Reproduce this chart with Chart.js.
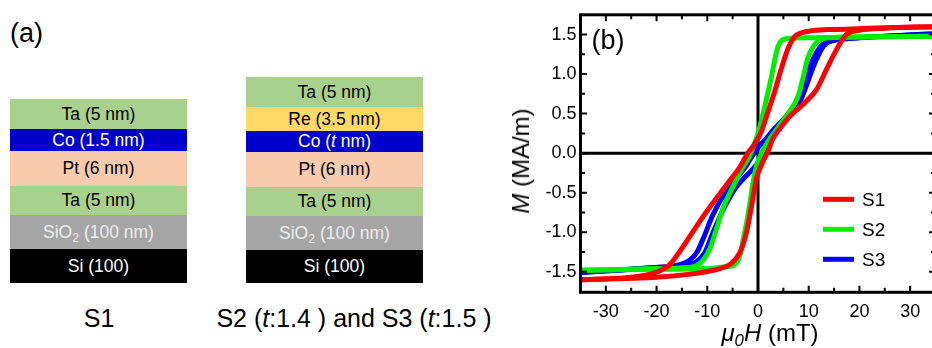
<!DOCTYPE html>
<html>
<head>
<meta charset="utf-8">
<script src="https://cdn.jsdelivr.net/npm/chart.js@4.4.0/dist/chart.umd.min.js"></script>
<style>
  html, body { margin: 0; padding: 0; background: #fff; overflow: hidden; }
  body { width: 932px; height: 348px; position: relative; font-family: "Liberation Sans", Arial, sans-serif; }
  .abs { position: absolute; }
  .layer { position: absolute; display: flex; align-items: center; justify-content: center; font-size: 17.5px; color: #000; white-space: nowrap; }
  .ta { background: #a9d18e; }
  .co { background: #0000cc; color: #fff; }
  .pt { background: #f8cbad; }
  .re { background: #ffd966; }
  .sio { background: #a5a5a5; color: #ececec; }
  .si { background: #000; color: #fff; }
  sub { font-size: 0.7em; vertical-align: -0.3em; line-height: 0; }
  #chartBox { position: absolute; left: 500px; top: 0; width: 440px; height: 348px; }
  .title { position: absolute; white-space: nowrap; font-size: 24px; transform: translate(-50%, -50%); }
</style>
</head>
<body>
<div class="abs" style="left:10px;top:18px;font-size:27px;">(a)</div>

<!-- S1 stack -->
<div class="layer ta"  style="left:10px;width:177px;top:99px;height:30px;"><span>Ta (5 nm)</span></div>
<div class="layer co"  style="left:10px;width:177px;top:129px;height:22px;"><span>Co (1.5 nm)</span></div>
<div class="layer pt"  style="left:10px;width:177px;top:151px;height:35px;"><span>Pt (6 nm)</span></div>
<div class="layer ta"  style="left:10px;width:177px;top:186px;height:29px;"><span>Ta (5 nm)</span></div>
<div class="layer sio" style="left:10px;width:177px;top:215px;height:34px;"><span>SiO<sub>2</sub> (100 nm)</span></div>
<div class="layer si"  style="left:10px;width:177px;top:249px;height:34px;"><span>Si (100)</span></div>

<!-- S2 / S3 stack -->
<div class="layer ta"  style="left:246px;width:177px;top:77px;height:30px;"><span>Ta (5 nm)</span></div>
<div class="layer re"  style="left:246px;width:177px;top:107px;height:24px;"><span>Re (3.5 nm)</span></div>
<div class="layer co"  style="left:246px;width:177px;top:131px;height:21px;"><span>Co (<i>t</i> nm)</span></div>
<div class="layer pt"  style="left:246px;width:177px;top:152px;height:35px;"><span>Pt (6 nm)</span></div>
<div class="layer ta"  style="left:246px;width:177px;top:187px;height:29px;"><span>Ta (5 nm)</span></div>
<div class="layer sio" style="left:246px;width:177px;top:216px;height:34px;"><span>SiO<sub>2</sub> (100 nm)</span></div>
<div class="layer si"  style="left:246px;width:177px;top:250px;height:33px;"><span>Si (100)</span></div>

<div class="title" style="left:99px;top:318px;font-size:25px;">S1</div>
<div class="title" style="left:354px;top:318px;font-size:25px;">S2 (<i>t</i>:1.4 ) and S3 (<i>t</i>:1.5 )</div>

<div id="chartBox"><canvas id="chart" width="440" height="348"></canvas></div>

<div class="title" style="left:770px;top:333px;"><i>μ<sub>0</sub>H</i> (mT)</div>
<div class="title" style="left:521px;top:161px;transform:translate(-50%,-50%) rotate(-90deg);"><i>M</i> (MA/m)</div>

<script>
// tick labels
const xTicks = [-30, -20, -10, 0, 10, 20, 30];
const yTicks = [-1.5, -1.0, -0.5, 0.0, 0.5, 1.0, 1.5];

// S1 (red) - field sweep down and up
const hS1Down = [35, 25, 20, 15, 10.8, 8.5, 7.2, 5.9, 4.6, 3.3, 2.0, 0.7, -0.5, -2.0, -3.6, -5.6, -7.5, -10.8, -13.4, -15.4, -17.4, -19.4, -21.3, -26, -35];
const mS1Down = [1.60, 1.585, 1.575, 1.565, 1.55, 1.52, 1.47, 1.32, 1.07, 0.78, 0.53, 0.28, 0.13, 0.0, -0.18, -0.35, -0.51, -0.80, -1.05, -1.24, -1.41, -1.49, -1.53, -1.575, -1.60];
const hS1Up = [-35, -26, -20, -13.4, -9.5, -7.5, -5.6, -3.6, -2.3, -1.3, -0.3, 0.8, 1.8, 3.0, 4.3, 6.2, 8.9, 11.5, 13.5, 15.4, 17.4, 20, 25, 35];
const mS1Up = [-1.60, -1.585, -1.57, -1.53, -1.49, -1.46, -1.41, -1.26, -1.01, -0.68, -0.32, -0.13, 0.0, 0.19, 0.31, 0.46, 0.62, 0.80, 1.06, 1.30, 1.50, 1.555, 1.58, 1.60];

// S2 (green)
const hS2Down = [35, 20, 10, 6, 4.6, 3.9, 3.3, 2.6, 2.0, 1.0, 0, -1.0, -1.6, -3.0, -4.9, -6.9, -8.2, -9.5, -10.8, -12.1, -14.8, -20, -35];
const mS2Down = [1.48, 1.47, 1.46, 1.45, 1.42, 1.34, 1.18, 0.95, 0.78, 0.50, 0.25, 0.07, -0.03, -0.18, -0.42, -0.70, -0.96, -1.21, -1.35, -1.42, -1.45, -1.46, -1.48];
const hS2Up = [-35, -20, -10, -6.9, -4.9, -4.0, -3.4, -3.0, -2.3, -1.6, -1.0, -0.3, 0.7, 2.0, 3.9, 5.9, 7.9, 8.9, 9.8, 10.8, 12.1, 14, 20, 35];
const mS2Up = [-1.48, -1.47, -1.46, -1.44, -1.42, -1.36, -1.26, -1.12, -0.90, -0.64, -0.38, -0.16, 0.0, 0.15, 0.32, 0.50, 0.72, 0.96, 1.20, 1.34, 1.43, 1.46, 1.47, 1.48];

// S3 (blue)
const hS3Down = [35, 25, 18, 14.5, 12.5, 10.5, 9.2, 7.6, 5.6, 3.0, 1.3, 0, -1.3, -2.3, -4.3, -6.2, -8.9, -10.8, -12.1, -13.4, -15.4, -21, -35];
const mS3Down = [1.51, 1.48, 1.45, 1.42, 1.36, 1.14, 0.90, 0.64, 0.47, 0.29, 0.16, 0.07, -0.05, -0.16, -0.32, -0.47, -0.78, -1.08, -1.26, -1.35, -1.41, -1.45, -1.51];
const hS3Up = [-35, -21, -15, -12.1, -10.5, -8.9, -6.9, -4.3, -2.5, -1.3, 0, 1.0, 2.0, 3.6, 6.2, 8.2, 9.8, 11.2, 13.0, 15, 20, 35];
const mS3Up = [-1.51, -1.45, -1.42, -1.37, -1.26, -1.01, -0.72, -0.43, -0.30, -0.22, -0.12, 0.02, 0.15, 0.28, 0.47, 0.64, 0.90, 1.14, 1.36, 1.43, 1.46, 1.51];

const samples = [
  { label: "S1", color: "#ff0000", down: [hS1Down, mS1Down], up: [hS1Up, mS1Up] },
  { label: "S2", color: "#00ee00", down: [hS2Down, mS2Down], up: [hS2Up, mS2Up] },
  { label: "S3", color: "#0000ff", down: [hS3Down, mS3Down], up: [hS3Up, mS3Up] }
];

function toPoints(hs, ms) {
  return hs.map((h, i) => ({ x: h, y: ms[i] }));
}

const datasets = [];
samples.forEach(s => {
  [s.down, s.up].forEach(branch => {
    datasets.push({
      label: s.label,
      data: toPoints(branch[0], branch[1]),
      borderColor: s.color,
      backgroundColor: s.color,
      borderWidth: 5,
      pointRadius: 0,
      fill: false,
      cubicInterpolationMode: "monotone"
    });
  });
});

const FONT = "'Liberation Sans', Arial, sans-serif";

// zero lines, behind the curves
const zeroLines = {
  id: "zeroLines",
  beforeDatasetsDraw(chart) {
    const { ctx, chartArea: a, scales: { x, y } } = chart;
    ctx.save();
    ctx.strokeStyle = "#000";
    ctx.lineWidth = 3;
    ctx.beginPath();
    const x0 = x.getPixelForValue(0), y0 = y.getPixelForValue(0);
    ctx.moveTo(x0, a.top); ctx.lineTo(x0, a.bottom);
    ctx.moveTo(a.left, y0); ctx.lineTo(a.right, y0);
    ctx.stroke();
    ctx.restore();
  }
};

// box frame with inward ticks + legend
const frame = {
  id: "frame",
  afterDatasetsDraw(chart) {
    const { ctx, chartArea: a, scales: { x, y } } = chart;
    ctx.save();
    ctx.strokeStyle = "#000";
    ctx.lineWidth = 2;
    ctx.beginPath();
    const xs = xTicks.concat(xTicks.slice(1).map((v, i) => (v + xTicks[i]) / 2));
    xs.push(xTicks[0] - 5, xTicks[xTicks.length - 1] + 5);
    xs.forEach(v => {
      const len = xTicks.includes(v) ? 6.5 : 4.5;
      const px = x.getPixelForValue(v);
      ctx.moveTo(px, a.bottom); ctx.lineTo(px, a.bottom - len);
      ctx.moveTo(px, a.top); ctx.lineTo(px, a.top + len);
    });
    const ys = yTicks.concat(yTicks.slice(1).map((v, i) => (v + yTicks[i]) / 2));
    ys.forEach(v => {
      const len = yTicks.includes(v) ? 6.5 : 4.5;
      const py = y.getPixelForValue(v);
      ctx.moveTo(a.left, py); ctx.lineTo(a.left + len, py);
      ctx.moveTo(a.right, py); ctx.lineTo(a.right - len, py);
    });
    ctx.stroke();
    ctx.lineWidth = 3;
    ctx.strokeRect(a.left, a.top, a.right - a.left, a.bottom - a.top);

    // panel label
    ctx.fillStyle = "#000";
    ctx.font = "27px " + FONT;
    ctx.textBaseline = "middle";
    ctx.textAlign = "left";
    ctx.fillText("(b)", a.left + 11, a.top + 27);

    // legend
    ctx.font = "19px " + FONT;
    samples.forEach((s, i) => {
      const ly = a.top + 184.5 + i * 30;
      ctx.strokeStyle = s.color;
      ctx.lineWidth = 5;
      ctx.beginPath();
      ctx.moveTo(a.left + 242.5, ly);
      ctx.lineTo(a.left + 273.5, ly);
      ctx.stroke();
      ctx.fillText(s.label, a.left + 281.5, ly + 1);
    });
    ctx.restore();
  }
};

const tickFont = { family: FONT, size: 18 };

new Chart(document.getElementById("chart"), {
  type: "line",
  data: { datasets: datasets },
  options: {
    responsive: false,
    animation: false,
    layout: { padding: { top: 10.7, right: 4.5, left: 0, bottom: 0 } },
    plugins: { legend: { display: false }, tooltip: { enabled: false } },
    scales: {
      x: {
        type: "linear",
        min: -35,
        max: 35,
        grid: { display: false, drawTicks: false },
        border: { display: false },
        ticks: { color: "#000", font: tickFont, padding: 9, autoSkip: false, maxRotation: 0 },
        afterBuildTicks: axis => { axis.ticks = xTicks.map(v => ({ value: v })); },
        afterFit: axis => { axis.height = 55.7; }
      },
      y: {
        type: "linear",
        min: -1.76,
        max: 1.75,
        grid: { display: false, drawTicks: false },
        border: { display: false },
        ticks: { color: "#000", font: tickFont, padding: 4, autoSkip: false, callback: v => v.toFixed(1) },
        afterBuildTicks: axis => { axis.ticks = yTicks.map(v => ({ value: v })); },
        afterFit: axis => { axis.width = 80.5; }
      }
    }
  },
  plugins: [zeroLines, frame]
});
</script>
</body>
</html>
